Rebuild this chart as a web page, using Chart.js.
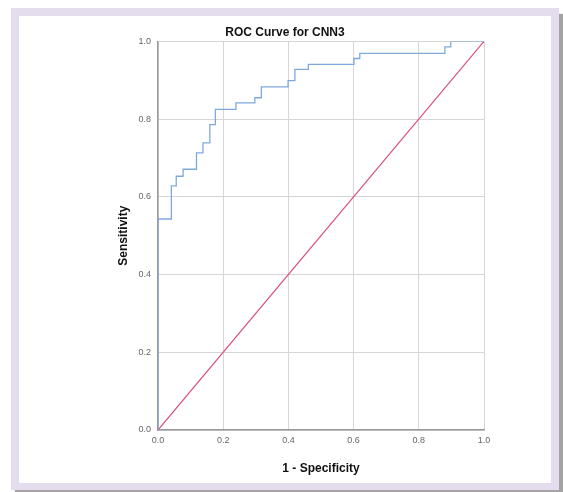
<!DOCTYPE html>
<html lang="en">
<head>
    <meta charset="UTF-8">
    <title>ROC Curve for CNN3</title>
    <script src="https://cdn.jsdelivr.net/npm/chart.js"></script>
    <style>
        body {
            margin: 0;
            background-color: #ffffff;
            width: 563px;
            height: 492px;
            overflow: hidden;
            position: relative;
        }
        .frame {
            position: absolute;
            left: 11px;
            top: 8px;
            width: 548px;
            height: 482px;
            background-color: #e4ddee;
            box-shadow: 4px 6px 1px #a3a3a3;
        }
        .panel {
            position: absolute;
            left: 8px;
            top: 8px;
            width: 532px;
            height: 467px;
            background-color: #ffffff;
        }
    </style>
</head>
<body>
    <div class="frame">
        <div class="panel">
            <canvas id="rocChart" width="532" height="467"></canvas>
        </div>
    </div>
    <script>
        // ROC curve corners (1 - specificity, sensitivity)
        const fprValues = [0, 0, 0.041, 0.056, 0.077, 0.118, 0.138, 0.159, 0.176, 0.239, 0.297, 0.317, 0.399, 0.420, 0.461, 0.601, 0.619, 0.880, 0.898, 1.0];
        const tprValues = [0, 0.543, 0.628, 0.653, 0.671, 0.713, 0.739, 0.786, 0.825, 0.842, 0.855, 0.883, 0.899, 0.928, 0.941, 0.956, 0.969, 0.986, 1.0, 1.0];

        // reference (chance) line
        const refX = [0, 1];
        const refY = [0, 1];

        const tickValues = [0, 0.2, 0.4, 0.6, 0.8, 1.0];

        const toPoints = (xs, ys) => xs.map((x, i) => ({ x: x, y: ys[i] }));

        const font = 'Liberation Sans, Arial, sans-serif';

        const ctx = document.getElementById('rocChart').getContext('2d');
        new Chart(ctx, {
            type: 'scatter',
            data: {
                datasets: [
                    {
                        label: 'ROC',
                        data: toPoints(fprValues, tprValues),
                        showLine: true,
                        stepped: true,
                        borderColor: '#7ea9dd',
                        borderWidth: 1.3,
                        pointRadius: 0,
                        fill: false
                    },
                    {
                        label: 'Reference',
                        data: toPoints(refX, refY),
                        showLine: true,
                        borderColor: '#d8507c',
                        borderWidth: 1.2,
                        pointRadius: 0,
                        fill: false
                    }
                ]
            },
            options: {
                responsive: false,
                animation: false,
                layout: {
                    padding: { left: 67, right: 67, top: 0, bottom: 0 }
                },
                plugins: {
                    legend: { display: false },
                    tooltip: { enabled: false },
                    title: {
                        display: true,
                        text: 'ROC Curve for CNN3',
                        color: '#111111',
                        font: { family: font, size: 12, weight: 'bold' },
                        padding: { top: 9, bottom: 2 }
                    }
                },
                scales: {
                    x: {
                        type: 'linear',
                        min: 0,
                        max: 1,
                        afterFit: (scale) => { scale.height = 53; },
                        afterBuildTicks: (scale) => { scale.ticks = tickValues.map(v => ({ value: v })); },
                        ticks: {
                            color: '#666666',
                            font: { family: font, size: 9 },
                            padding: 5,
                            maxRotation: 0,
                            callback: v => v.toFixed(1)
                        },
                        grid: { color: '#d6d6d6', drawTicks: false },
                        border: { color: '#9a9a9a', width: 1.5 },
                        title: {
                            display: true,
                            text: '1 - Specificity',
                            color: '#111111',
                            font: { family: font, size: 12, weight: 'bold' },
                            padding: { bottom: 7 }
                        }
                    },
                    y: {
                        type: 'linear',
                        min: 0,
                        max: 1,
                        afterFit: (scale) => { scale.width = 72; },
                        afterBuildTicks: (scale) => { scale.ticks = tickValues.map(v => ({ value: v })); },
                        ticks: {
                            color: '#666666',
                            font: { family: font, size: 9 },
                            padding: 7,
                            callback: v => v.toFixed(1)
                        },
                        grid: { color: '#d6d6d6', drawTicks: false },
                        border: { color: '#9a9a9a', width: 1.5 },
                        title: {
                            display: true,
                            text: 'Sensitivity',
                            color: '#111111',
                            font: { family: font, size: 12, weight: 'bold' },
                            padding: { top: 30 }
                        }
                    }
                }
            }
        });
    </script>
</body>
</html>
